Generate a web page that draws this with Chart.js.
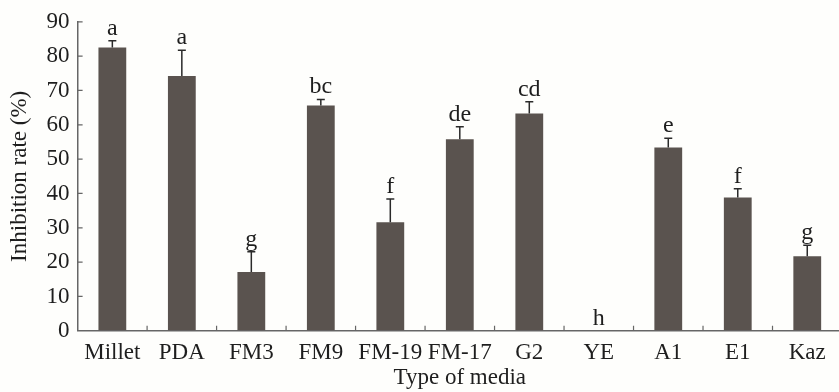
<!DOCTYPE html>
<html>
<head>
<meta charset="utf-8">
<script src="https://cdn.jsdelivr.net/npm/chart.js@4/dist/chart.umd.min.js"></script>
<style>
  html, body { margin: 0; padding: 0; background: #fefefc; overflow: hidden; }
  #wrap { width: 842px; height: 392px; position: relative; }
</style>
</head>
<body>
<div id="wrap"><canvas id="chart"></canvas></div>
<script>
const media = ['Millet', 'PDA', 'FM3', 'FM9', 'FM-19', 'FM-17', 'G2', 'YE', 'A1', 'E1', 'Kaz'];
const inhibition = [82.5, 74.2, 17.1, 65.6, 31.6, 55.8, 63.3, 0, 53.4, 38.8, 21.7];
const errors = [2.0, 7.5, 5.9, 1.8, 6.8, 3.6, 3.4, 0, 2.7, 2.6, 3.2];
const letters = ['a', 'a', 'g', 'bc', 'f', 'de', 'cd', 'h', 'e', 'f', 'g'];

const serif = "'Liberation Serif', 'Times New Roman', serif";
const ink = '#1e1e1e';

// upper error bars, significance letters and inward ticks
const extras = {
  id: 'extras',
  afterDatasetsDraw(chart) {
    const { ctx, chartArea, scales: { x, y } } = chart;
    ctx.save();
    ctx.strokeStyle = '#2a2a2a';
    ctx.lineWidth = 1.5;
    inhibition.forEach((v, i) => {
      const cx = x.getPixelForValue(i);
      const top = y.getPixelForValue(v + errors[i]);
      if (errors[i] > 0) {
        ctx.beginPath();
        ctx.moveTo(cx, y.getPixelForValue(v));
        ctx.lineTo(cx, top);
        ctx.moveTo(cx - 4, top);
        ctx.lineTo(cx + 4, top);
        ctx.stroke();
      }
      ctx.fillStyle = ink;
      ctx.font = '24px ' + serif;
      ctx.textAlign = 'center';
      ctx.textBaseline = 'alphabetic';
      ctx.fillText(letters[i], cx, top - 6);
    });

    ctx.strokeStyle = '#666';
    ctx.lineWidth = 1.2;
    ctx.beginPath();
    for (let t = 10; t <= 90; t += 10) {
      const py = y.getPixelForValue(t);
      ctx.moveTo(chartArea.left, py);
      ctx.lineTo(chartArea.left + 5, py);
    }
    const w = (chartArea.right - chartArea.left) / media.length;
    for (let i = 1; i < media.length; i++) {
      const px = chartArea.left + i * w;
      ctx.moveTo(px, chartArea.bottom);
      ctx.lineTo(px, chartArea.bottom - 5);
    }
    ctx.stroke();
    ctx.restore();
  }
};

new Chart(document.getElementById('chart'), {
  type: 'bar',
  data: {
    labels: media,
    datasets: [{
      data: inhibition,
      backgroundColor: '#5a534f',
      categoryPercentage: 1,
      barPercentage: 0.4
    }]
  },
  options: {
    responsive: true,
    maintainAspectRatio: false,
    animation: false,
    layout: { padding: { top: 6, right: 0, left: 6, bottom: 0 } },
    plugins: {
      legend: { display: false },
      tooltip: { enabled: false }
    },
    scales: {
      x: {
        grid: { drawOnChartArea: false, drawTicks: false },
        border: { color: '#666', width: 1.5 },
        ticks: { color: ink, font: { family: serif, size: 23 }, padding: 8, maxRotation: 0, autoSkip: false },
        title: { display: true, text: 'Type of media', color: ink, font: { family: serif, size: 23 }, padding: { top: -10, bottom: 0 } }
      },
      y: {
        min: 0,
        max: 90,
        grid: { drawOnChartArea: false, drawTicks: false },
        border: { color: '#666', width: 1.5 },
        ticks: { stepSize: 10, color: ink, font: { family: serif, size: 23 }, padding: 8 },
        title: { display: true, text: 'Inhibition rate (%)', color: ink, font: { family: serif, size: 23 }, padding: { top: 0, bottom: 5 } }
      }
    }
  },
  plugins: [extras]
});
</script>
</body>
</html>
